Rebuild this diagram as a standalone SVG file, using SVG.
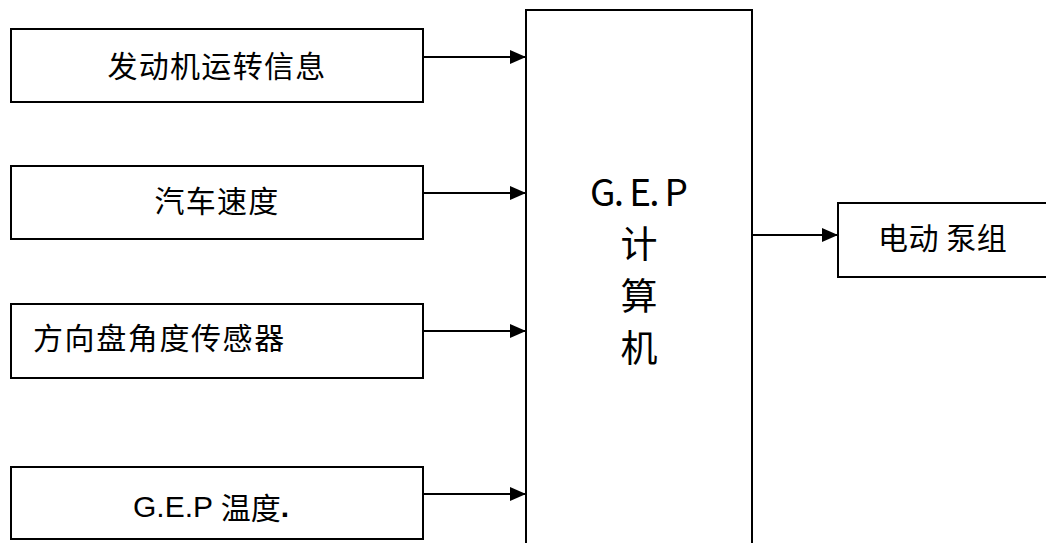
<svg xmlns="http://www.w3.org/2000/svg" width="1046" height="543" viewBox="0 0 1046 543">
<style>
.box{fill:#fff;stroke:#000;stroke-width:2}
.t{font-family:"Noto Sans CJK SC","Liberation Sans",sans-serif;font-size:30px;fill:#000;dominant-baseline:central}
.m{font-family:"Noto Sans CJK SC","Liberation Sans",sans-serif;font-size:37px;fill:#000;text-anchor:middle;dominant-baseline:central}
.a{font-family:"Liberation Sans",Arial,sans-serif;font-size:30px}
.c{stroke:#000;stroke-width:2;fill:none;marker-end:url(#ah)}
</style>
<defs>
<marker id="ah" markerWidth="16" markerHeight="14" refX="16" refY="7" orient="auto" markerUnits="userSpaceOnUse">
<path d="M0,0 L16,7 L0,14 Z" fill="#000"/>
</marker>
</defs>
<rect width="1046" height="543" fill="#fff"/>
<g id="connectors">
<line class="c" x1="423" y1="57" x2="526" y2="57"/>
<line class="c" x1="423" y1="193" x2="526" y2="193"/>
<line class="c" x1="423" y1="331" x2="526" y2="331"/>
<line class="c" x1="423" y1="494" x2="526" y2="494"/>
<line class="c" x1="752" y1="235" x2="838" y2="235"/>
</g>
<g id="n1"><rect class="box" x="11" y="29" width="412" height="73"/><text class="t" x="217" y="64" text-anchor="middle" letter-spacing="1.3">发动机运转信息</text></g>
<g id="n2"><rect class="box" x="11" y="166" width="412" height="73"/><text class="t" x="217" y="199" text-anchor="middle" letter-spacing="1.3">汽车速度</text></g>
<g id="n3"><rect class="box" x="11" y="304" width="412" height="74"/><text class="t" x="33" y="336" letter-spacing="1.6">方向盘角度传感器</text></g>
<g id="n4"><rect class="box" x="11" y="467" width="412" height="72"/><text class="t" x="133" y="506"><tspan class="a">G.E.P </tspan>温度<tspan class="a" font-weight="bold">.</tspan></text></g>
<g id="gep"><rect class="box" x="526" y="10" width="226" height="545"/>
<text class="m" x="639" y="190" textLength="98" lengthAdjust="spacing">G. E. P</text>
<text class="m" x="639" y="242">计</text>
<text class="m" x="639" y="294">算</text>
<text class="m" x="639" y="346">机</text>
</g>
<g id="pump"><rect class="box" x="838" y="203" width="215" height="74"/><text class="t" x="878" y="236" letter-spacing="0.5">电动 泵组</text></g>
</svg>
